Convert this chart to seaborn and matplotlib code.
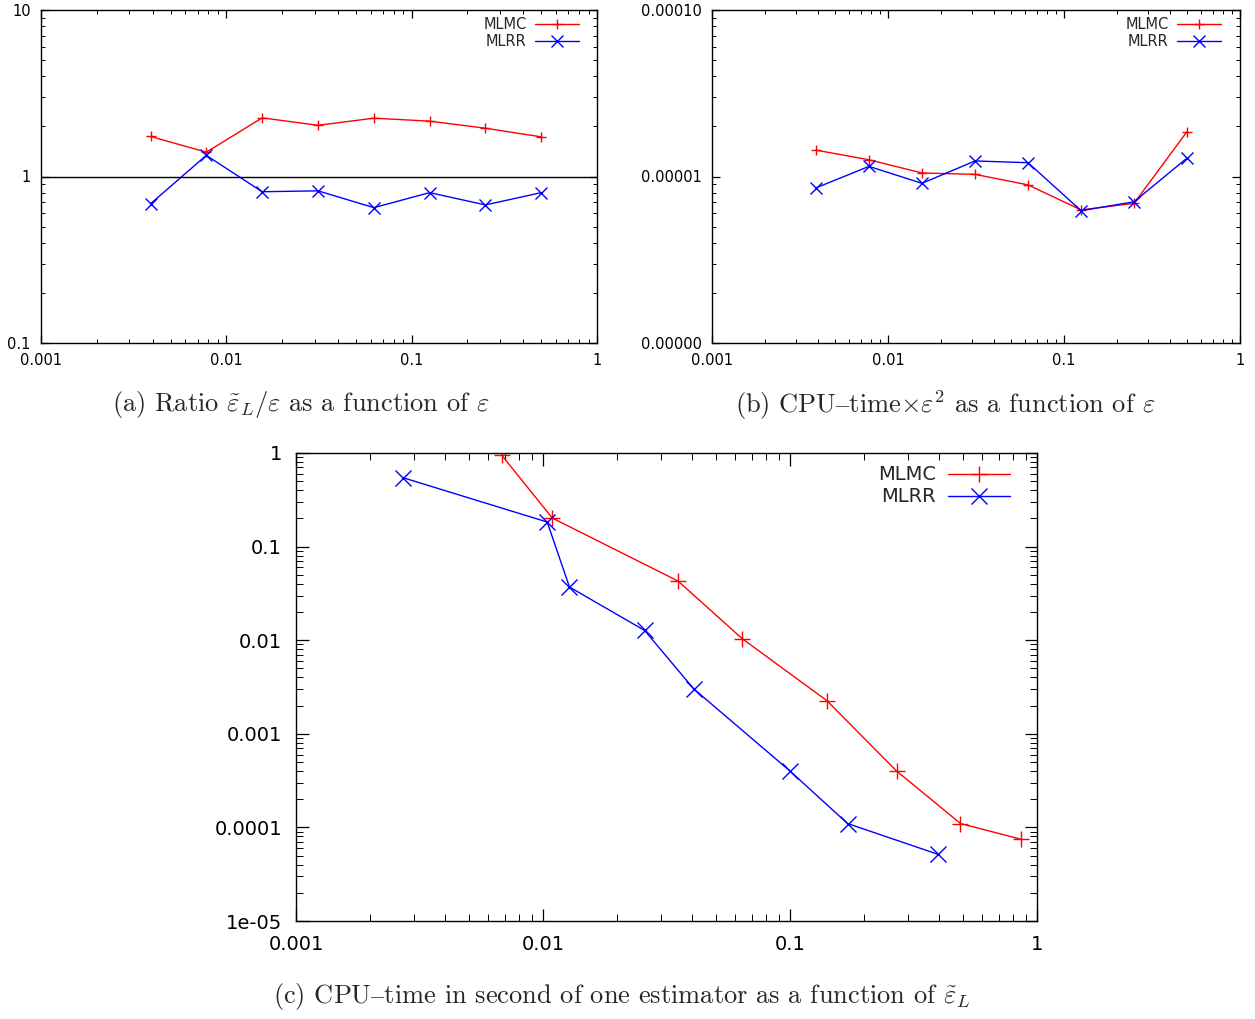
"""
MLMC vs MLRR — 세 패널 그림 (ratio, CPU-time x eps^2, CPU-time vs error)
out.png 로 저장.
"""
import matplotlib
matplotlib.use("Agg")
import matplotlib.pyplot as plt
import seaborn as sns
from matplotlib.ticker import LogLocator, NullFormatter

# ── 데이터 ─────────────────────────────────────────────────────────
EPS = [0.0039, 0.0078, 0.0156, 0.03125, 0.0625, 0.125, 0.25, 0.5]

RATIO_MLMC = [1.74, 1.40, 2.25, 2.03, 2.24, 2.15, 1.95, 1.73]
RATIO_MLRR = [0.686, 1.34, 0.81, 0.82, 0.65, 0.80, 0.675, 0.80]

CPU_EPS2_MLMC = [1.44e-5, 1.26e-5, 1.05e-5, 1.03e-5, 0.89e-5, 0.63e-5, 0.69e-5, 1.86e-5]
CPU_EPS2_MLRR = [0.855e-5, 1.15e-5, 0.91e-5, 1.24e-5, 1.21e-5, 0.623e-5, 0.705e-5, 1.29e-5]

ERR_MLMC = [0.0068, 0.0109, 0.0352, 0.064, 0.141, 0.270, 0.490, 0.865]
CPU_MLMC = [0.95, 0.202, 0.0429, 0.0104, 0.00226, 0.000401, 0.00011, 7.45e-5]
ERR_MLRR = [0.00271, 0.0104, 0.0128, 0.0258, 0.0407, 0.1, 0.171, 0.398]
CPU_MLRR = [0.545, 0.183, 0.037, 0.0127, 0.00303, 0.0004, 0.00011, 5.15e-5]

XTICKS = [0.001, 0.01, 0.1, 1]
XTICKLABELS = ["0.001", "0.01", "0.1", "1"]

YTICKS_A = [0.1, 1, 10]
YTICKLABELS_A = ["0.1", "1", "10"]
YTICKS_B = [1e-6, 1e-5, 1e-4]
YTICKLABELS_B = ["0.00000", "0.00001", "0.00010"]
YTICKS_C = [1e-5, 1e-4, 1e-3, 1e-2, 1e-1, 1]
YTICKLABELS_C = ["1e-05", "0.0001", "0.001", "0.01", "0.1", "1"]

CAPTIONS = [
    r"(a) Ratio $\tilde{\varepsilon}_L/\varepsilon$ as a function of $\varepsilon$",
    r"(b) CPU$\mathrm{–}$time$\times\varepsilon^2$ as a function of $\varepsilon$",
    r"(c) CPU$\mathrm{–}$time in second of one estimator as a function of $\tilde{\varepsilon}_L$",
]

sns.set_theme(style="ticks")
plt.rcParams["font.family"] = ["DejaVu Sans"]
plt.rcParams["mathtext.fontset"] = "cm"
CAP_FONT = ["cmr10", "DejaVu Serif"]


def style_axes(ax, yticks, ylabels, tick_size, pad, major_len, minor_len):
    ax.set_xscale("log")
    ax.set_yscale("log")
    ax.set_xticks(XTICKS, XTICKLABELS)
    ax.set_yticks(yticks, ylabels)
    ax.xaxis.set_minor_locator(LogLocator(base=10, subs=range(2, 10), numticks=20))
    ax.yaxis.set_minor_locator(LogLocator(base=10, subs=range(2, 10), numticks=20))
    ax.xaxis.set_minor_formatter(NullFormatter())
    ax.yaxis.set_minor_formatter(NullFormatter())
    ax.tick_params(which="both", direction="in", top=True, right=True,
                   colors="black", labelsize=tick_size)
    ax.tick_params(which="major", length=major_len, width=0.9, pad=pad)
    ax.tick_params(which="minor", length=minor_len, width=0.7)
    for s in ax.spines.values():
        s.set_visible(True)
        s.set_color("black")
        s.set_linewidth(1.0)
    ax.grid(False)


def draw_pair(ax, x1, y1, x2, y2, ms_plus, ms_x, lw):
    sns.lineplot(x=x1, y=y1, ax=ax, color="#ff0000", marker="+", markersize=ms_plus,
                 markeredgewidth=1.0, markeredgecolor="#ff0000", linewidth=lw,
                 label="MLMC", sort=False, estimator=None)
    sns.lineplot(x=x2, y=y2, ax=ax, color="#0000ff", marker="x", markersize=ms_x,
                 markeredgewidth=1.0, markeredgecolor="#0000ff", linewidth=lw,
                 label="MLRR", sort=False, estimator=None)


def add_legend(ax, size, hlen, anchor):
    ax.legend(loc="upper right", bbox_to_anchor=anchor, frameon=False,
              markerfirst=False, fontsize=size, handlelength=hlen,
              handletextpad=0.6, labelspacing=0.15, borderpad=0,
              borderaxespad=0)


fig = plt.figure(figsize=(12.55, 10.19), dpi=100)

# ── (a) ─────────────────────────────────────────────────────────────────
ax_a = fig.add_axes([41 / 1255, 1 - 343 / 1019, 556 / 1255, 333 / 1019])
draw_pair(ax_a, EPS, RATIO_MLMC, EPS, RATIO_MLRR, 7.5, 8, 1.0)
ax_a.axhline(1.0, color="black", linewidth=1.0)
style_axes(ax_a, YTICKS_A, YTICKLABELS_A, 10.5, 7.5, 6, 3)
ax_a.set_xlim(0.001, 1)
ax_a.set_ylim(0.1, 10)
add_legend(ax_a, 10.5, 3.0, ((579 - 41) / 556, 1 - 7 / 333))

# ── (b) ─────────────────────────────────────────────────────────────────
ax_b = fig.add_axes([712 / 1255, 1 - 343 / 1019, 528 / 1255, 333 / 1019])
draw_pair(ax_b, EPS, CPU_EPS2_MLMC, EPS, CPU_EPS2_MLRR, 7.5, 8, 1.0)
style_axes(ax_b, YTICKS_B, YTICKLABELS_B, 10.5, 7.5, 6, 3)
ax_b.set_xlim(0.001, 1)
ax_b.set_ylim(1e-6, 1e-4)
add_legend(ax_b, 10.5, 3.0, ((1221 - 712) / 528, 1 - 7 / 333))

# ── (c) ─────────────────────────────────────────────────────────────────
ax_c = fig.add_axes([296 / 1255, 1 - 921 / 1019, 741 / 1255, 468 / 1019])
draw_pair(ax_c, ERR_MLMC, CPU_MLMC, ERR_MLRR, CPU_MLRR, 11.5, 12, 1.0)
style_axes(ax_c, YTICKS_C, YTICKLABELS_C, 14, 10, 9, 5)
ax_c.set_xlim(0.001, 1)
ax_c.set_ylim(1e-5, 1)
add_legend(ax_c, 14, 3.2, ((1010 - 296) / 741, 1 - 12.5 / 468))

# ── 캡션 ────────────────────────────────────────────────────────────────
fig.text(301 / 1255, 1 - 405 / 1019, CAPTIONS[0], ha="center", va="center",
         fontsize=19, family=CAP_FONT)
fig.text(945 / 1255, 1 - 405 / 1019, CAPTIONS[1], ha="center", va="center",
         fontsize=19, family=CAP_FONT)
fig.text(622 / 1255, 1 - 997 / 1019, CAPTIONS[2], ha="center", va="center",
         fontsize=19, family=CAP_FONT)

fig.savefig("out.png", dpi=100)
plt.close(fig)
